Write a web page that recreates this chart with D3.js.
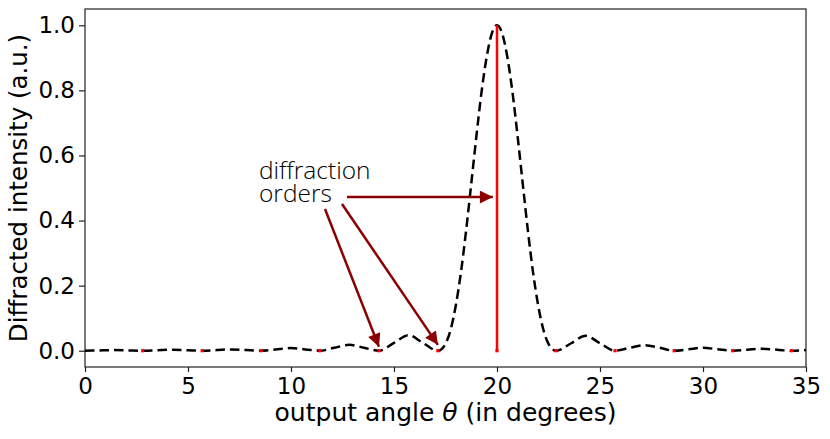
<!DOCTYPE html>
<html><head><meta charset="utf-8">
<script src="https://cdn.jsdelivr.net/npm/d3@7"></script>
<style>
html,body{margin:0;padding:0;background:#fff;}
svg{display:block;}
</style></head>
<body>
<svg id="chart" width="830" height="439"></svg>
<script>
// Curve readings: output angle (deg) and diffracted intensity (a.u.)
const curveAngles = [0, 0.7, 1.4, 2.1, 2.8, 3.5, 4.25, 5.0, 5.69, 6.4, 7.1, 7.8, 8.54,
  9.25, 9.97, 10.7, 11.4, 12.1, 12.83, 13.55, 14.27, 15.0, 15.7, 16.4, 17.13,
  17.25, 17.5, 17.75, 18.0, 18.25, 18.5, 18.75, 19.0, 19.25, 19.5, 19.75, 20.0,
  20.25, 20.5, 20.75, 21.0, 21.25, 21.5, 21.75, 22.0, 22.25, 22.5, 22.75, 22.86,
  23.6, 24.3, 25.0, 25.73, 26.45, 27.17, 27.9, 28.6, 29.3, 30.0, 30.7, 31.44,
  32.15, 32.87, 33.6, 34.3, 35.0];
const curveIntensity = [0.000, 0.001, 0.002, 0.001, 0.000, 0.0015, 0.003, 0.0015, 0.000, 0.002, 0.004, 0.002, 0.000,
  0.004, 0.008, 0.004, 0.000, 0.009, 0.018, 0.009, 0.000, 0.024, 0.048, 0.024, 0.000,
  0.002, 0.021, 0.065, 0.139, 0.241, 0.369, 0.513, 0.659, 0.795, 0.903, 0.975, 1.000,
  0.975, 0.903, 0.795, 0.659, 0.513, 0.369, 0.241, 0.139, 0.065, 0.021, 0.002, 0.000,
  0.023, 0.046, 0.023, 0.000, 0.009, 0.017, 0.009, 0.000, 0.0045, 0.009, 0.0045, 0.000,
  0.003, 0.006, 0.003, 0.000, 0.002];

// Diffraction orders (stems)
const orderAngles = [2.8, 5.69, 8.54, 11.4, 14.27, 17.13, 20.0, 22.86, 25.73, 28.6, 31.44, 34.3];
const orderHeights = [0, 0, 0, 0, 0, 0, 1.0, 0, 0, 0, 0, 0];

const xTicks = [0, 5, 10, 15, 20, 25, 30, 35];
const yTicks = [0.0, 0.2, 0.4, 0.6, 0.8, 1.0];

// Annotation arrows: targets in data coords
const arrowTargets = [[19.8, 0.472], [14.27, 0.012], [17.13, 0.018]];
const annotationLines = ["diffraction", "orders"];

const svg = d3.select("#chart");
const m = {left: 85, right: 806, top: 9, bottom: 367};

const x = d3.scaleLinear().domain([0, 35]).range([m.left, m.right]);
const y = d3.scaleLinear().domain([-0.05, 1.05]).range([m.bottom, m.top]);

// frame
svg.append("rect").attr("x", m.left).attr("y", m.top)
  .attr("width", m.right - m.left).attr("height", m.bottom - m.top)
  .attr("fill", "none").attr("stroke", "#222").attr("stroke-width", 1.2);

// axes
const xAxis = svg.append("g").attr("transform", `translate(0,${m.bottom})`)
  .call(d3.axisBottom(x).tickValues(xTicks).tickFormat(d3.format("d")).tickSize(5).tickPadding(6));
const yAxis = svg.append("g").attr("transform", `translate(${m.left},0)`)
  .call(d3.axisLeft(y).tickValues(yTicks).tickFormat(d3.format(".1f")).tickSize(6).tickPadding(4));
[xAxis, yAxis].forEach(g => {
  g.select(".domain").remove();
  g.selectAll(".tick line").attr("stroke", "#222").attr("stroke-width", 1.2);
  g.selectAll(".tick text").attr("fill", "#000")
    .style("font-family", "DejaVu Sans").style("font-size", "23px");
});

// curve
const pts = curveAngles.map((a, i) => [a, curveIntensity[i]]);
const line = d3.line().x(d => x(d[0])).y(d => y(d[1])).curve(d3.curveMonotoneX);
svg.append("path").attr("d", line(pts)).attr("fill", "none")
  .attr("stroke", "#000").attr("stroke-width", 2.5).attr("stroke-dasharray", "9.5,5");

// stems
svg.append("g").selectAll("line").data(orderAngles).join("line")
  .attr("x1", d => x(d)).attr("x2", d => x(d))
  .attr("y1", y(0)).attr("y2", (d, i) => y(orderHeights[i]))
  .attr("stroke", "#ff0000").attr("stroke-width", 2.5);
// stem bases
svg.append("g").selectAll("rect").data(orderAngles).join("rect")
  .attr("x", d => x(d) - 1.6).attr("y", y(0) - 1.6)
  .attr("width", 3.2).attr("height", 3.2).attr("fill", "#ff0000");

// arrowhead marker
svg.append("defs").append("marker").attr("id", "ah")
  .attr("viewBox", "0 0 10 10").attr("refX", 10).attr("refY", 5)
  .attr("markerWidth", 5.6).attr("markerHeight", 5.2).attr("markerUnits", "strokeWidth")
  .attr("orient", "auto")
  .append("path").attr("d", "M0,0 L10,5 L0,10 z").attr("fill", "#8b0000");

const starts = [[347, 197], [325, 209], [342, 204]];
svg.append("g").selectAll("line").data(arrowTargets).join("line")
  .attr("x1", (d, i) => starts[i][0]).attr("y1", (d, i) => starts[i][1])
  .attr("x2", d => x(d[0])).attr("y2", d => y(d[1]))
  .attr("stroke", "#8b0000").attr("stroke-width", 2.5)
  .attr("marker-end", "url(#ah)");

// annotation text
svg.append("g").selectAll("text").data(annotationLines).join("text")
  .attr("x", 259).attr("y", (d, i) => 179 + i * 22.5)
  .style("font-family", "Open Sans").style("font-size", "24.5px").style("font-weight", 300)
  .attr("fill", "#000").text(d => d);

// axis labels
const xl = svg.append("text").attr("x", (m.left + m.right) / 2).attr("y", 421)
  .attr("text-anchor", "middle").style("font-family", "DejaVu Sans").style("font-size", "25px");
xl.append("tspan").text("output angle ");
xl.append("tspan").style("font-style", "italic").text("θ");
xl.append("tspan").text(" (in degrees)");

svg.append("text").attr("transform", `translate(27,${(m.top + m.bottom) / 2}) rotate(-90)`)
  .attr("text-anchor", "middle").style("font-family", "DejaVu Sans").style("font-size", "24.5px")
  .text("Diffracted intensity (a.u.)");
</script>
</body></html>
